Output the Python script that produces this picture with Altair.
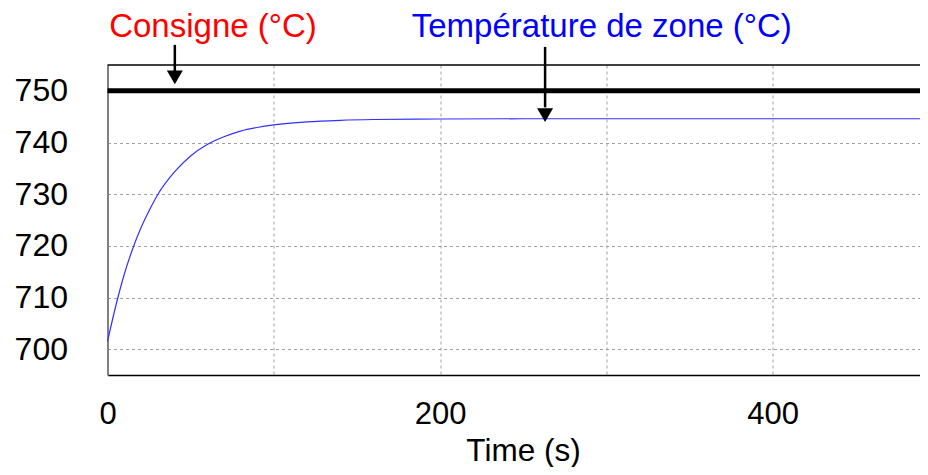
import altair as alt
import pandas as pd

# --- data ---
time_s = [0, 5, 10, 15, 20, 25, 30, 40, 50, 60, 70, 80, 90, 100, 120, 140, 160, 200, 250, 300, 350, 400, 450, 489]
zone_temp = [701.5, 708.4, 714.4, 719.3, 723.4, 726.8, 729.8, 734.2, 737.4, 739.6, 741.1, 742.2, 742.9, 743.4, 744.0, 744.3, 744.45, 744.55, 744.6, 744.6, 744.6, 744.6, 744.6, 744.6]

setpoint_time = [0, 489]
setpoint_value = [750, 750]

labels = ["Consigne (°C)", "Température de zone (°C)"]
label_colors = ["#ff0000", "#0000ff"]
label_t = [1, 183]
label_v = [760.4, 760.4]

arrow_t = [40.5, 263.2]
arrow_top = [758.9, 758.5]
arrow_bottom = [753.6, 746.8]
arrow_head = [752.6, 745.3]

x_ticks = [0, 100, 200, 300, 400]
y_ticks = [700, 710, 720, 730, 740, 750]
x_domain = [0, 488.7]
y_domain = [695, 755]

FONT = "Liberation Sans"

zone_df = pd.DataFrame({"t": time_s, "v": zone_temp})
sp_df = pd.DataFrame({"t": setpoint_time, "v": setpoint_value})
lab_df = pd.DataFrame({"t": label_t, "v": label_v, "label": labels, "color": label_colors})
arr_df = pd.DataFrame({"t": arrow_t, "v": arrow_top, "v2": arrow_bottom, "h": arrow_head})
top_df = pd.DataFrame({"v": [y_domain[1]]})

x_scale = alt.Scale(domain=x_domain, nice=False, zero=False)
y_scale = alt.Scale(domain=y_domain, nice=False, zero=False)

x_axis = alt.Axis(
    values=x_ticks,
    labelExpr="datum.value % 200 == 0 ? datum.label : ''",
    labelFlush=False,
    grid=True, gridDash=[3, 3], gridColor="#a0a0a0", gridWidth=1,
    ticks=False, labelFontSize=31, labelFont=FONT, labelColor="black",
    labelPadding=24, domainColor="black", domainWidth=1.5,
    title="Time (s)", titleFont=FONT, titleFontSize=31.5, titleFontWeight="normal",
    titleColor="black", titleX=415.5, titleAlign="center", titleAnchor="start",
    titleY=85.5, titleBaseline="alphabetic",
)
y_axis = alt.Axis(
    values=y_ticks,
    labelFlush=False,
    grid=True, gridDash=[3, 3], gridColor="#a0a0a0", gridWidth=1,
    ticks=False, labelFontSize=32, labelFont=FONT, labelColor="black",
    labelPadding=40, domainColor="#808080", domainWidth=2, title=None,
)

X = alt.X("t:Q", scale=x_scale, axis=x_axis)
Y = alt.Y("v:Q", scale=y_scale, axis=y_axis)

top_border = alt.Chart(top_df).mark_rule(color="black", strokeWidth=1.5).encode(
    y=alt.Y("v:Q", scale=y_scale, axis=y_axis)
)
setpoint = alt.Chart(sp_df).mark_line(color="black", strokeWidth=5).encode(x=X, y=Y)
zone = alt.Chart(zone_df).mark_line(color="#3030ff", strokeWidth=1.2, interpolate="monotone").encode(x=X, y=Y)
shafts = alt.Chart(arr_df).mark_rule(color="black", strokeWidth=2.5).encode(
    x=X, y=Y, y2="v2:Q"
)
heads = alt.Chart(arr_df).mark_point(
    shape="triangle-down", filled=True, size=256, color="black", opacity=1
).encode(x=X, y=alt.Y("h:Q", scale=y_scale, axis=y_axis))
texts = alt.Chart(lab_df).mark_text(
    align="left", baseline="alphabetic", fontSize=33, font=FONT
).encode(x=X, y=Y, text="label:N", color=alt.Color("color:N", scale=None))

chart = alt.layer(top_border, setpoint, zone, shafts, heads, texts).properties(
    width=812.5, height=310,
    autosize=alt.AutoSizeParams(type="none"),
    padding={"left": 99.5, "top": 57, "right": 0, "bottom": 92},
    background="white",
).configure_view(stroke=None)

chart.save("out.html", embed_options={"renderer": "svg", "actions": False})
